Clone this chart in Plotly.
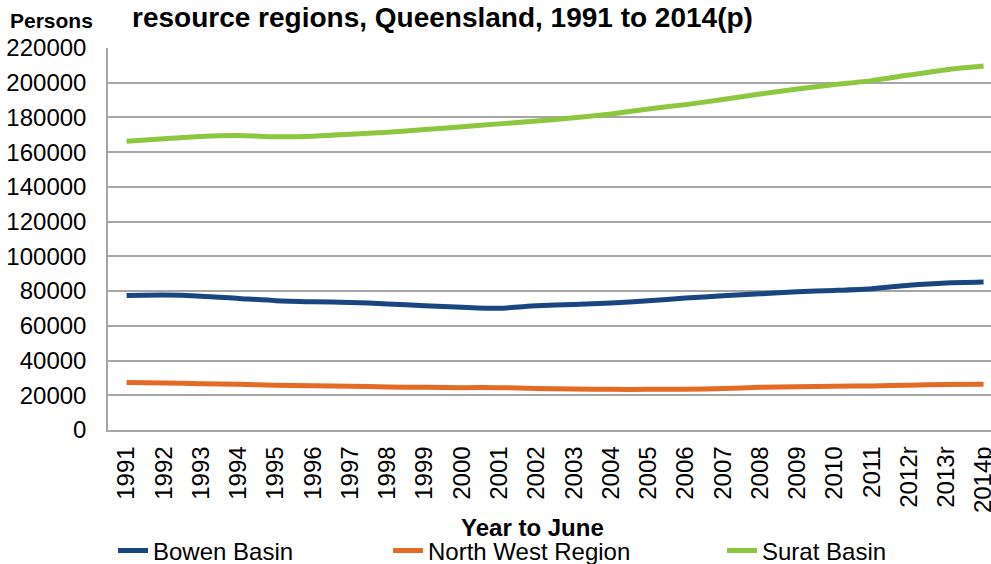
import plotly.graph_objects as go

years = ["1991", "1992", "1993", "1994", "1995", "1996", "1997", "1998", "1999", "2000",
         "2001", "2002", "2003", "2004", "2005", "2006", "2007", "2008", "2009", "2010",
         "2011", "2012r", "2013r", "2014p"]

bowen = [77500, 77700, 77100, 75800, 74500, 73900, 73500, 72600, 71600, 70700,
         70100, 71500, 72300, 73100, 74400, 76000, 77300, 78400, 79600, 80400,
         81400, 83400, 84700, 85200]

north_west = [27300, 27100, 26700, 26300, 25800, 25500, 25200, 24800, 24600, 24400,
              24400, 23900, 23600, 23400, 23400, 23500, 23900, 24600, 24900, 25200,
              25400, 25800, 26200, 26300]

surat = [166300, 167800, 169100, 169600, 168900, 169200, 170300, 171500, 173000, 174600,
         176300, 178000, 179800, 182000, 184900, 187400, 190300, 193500, 196400, 198900,
         201200, 204400, 207500, 209600]

y_ticks = list(range(0, 220001, 20000))

series = [
    ("Bowen Basin", bowen, "#194680", "legend"),
    ("North West Region", north_west, "#E46B25", "legend2"),
    ("Surat Basin", surat, "#8DC63F", "legend3"),
]

FONT = "Liberation Sans, Arial, sans-serif"
W, H = 991, 564
L, T = 108, 47.5
B = H - 430.5
R = 0

fig = go.Figure()
xs = list(range(len(years)))
for name, vals, color, lg in series:
    fig.add_trace(go.Scatter(
        x=xs, y=vals, name=name, mode="lines",
        line=dict(color=color, width=5, shape="spline", smoothing=0.6),
        legend=lg, showlegend=True,
    ))

legend_text_x = [153, 428, 762]
legend_common = dict(orientation="h", xref="container", yref="container",
                     xanchor="left", yanchor="middle", y=1 - 551 / H,
                     font=dict(family=FONT, size=24, color="#000"),
                     bgcolor="rgba(0,0,0,0)", borderwidth=0, visible=True)
fig.update_layout(
    showlegend=True,
    legend=dict(x=(legend_text_x[0] - 40) / W, **legend_common),
    legend2=dict(x=(legend_text_x[1] - 40) / W, **legend_common),
    legend3=dict(x=(legend_text_x[2] - 40) / W, **legend_common),
)

PW = W - L - R
PH = H - T - B

fig.update_layout(
    width=W, height=H,
    margin=dict(l=L, r=R, t=T, b=B, pad=0, autoexpand=False),
    paper_bgcolor="white", plot_bgcolor="white",
    font=dict(family=FONT, color="#000"),
    title=dict(text="<b>resource regions, Queensland, 1991 to 2014(p)</b>",
               x=132 / W, xanchor="left", xref="container",
               y=1 - 17 / H, yanchor="middle", yref="container", automargin=False,
               font=dict(family=FONT, size=28, color="#000")),
    xaxis=dict(
        tickmode="array", tickvals=xs, ticktext=years,
        range=[-0.5, 23.2], tickangle=-90,
        showgrid=False, zeroline=False, automargin=False,
        showline=True, linecolor="#A6A6A6", linewidth=1.5,
        ticks="", ticklabelstandoff=5, ticklabeloverflow="allow",
        tickfont=dict(family=FONT, size=24, color="#000"),
        fixedrange=True,
    ),
    yaxis=dict(
        range=[0, 220000], tickmode="array", tickvals=y_ticks,
        ticktext=[str(v) for v in y_ticks], automargin=False,
        showgrid=True, gridcolor="#A6A6A6", gridwidth=1.5,
        zeroline=False, showline=True, linecolor="#A6A6A6", linewidth=1.5,
        ticks="", ticklabelstandoff=15, ticklabeloverflow="allow",
        tickfont=dict(family=FONT, size=24, color="#000"),
        fixedrange=True,
    ),
    annotations=[
        dict(text="<b>Persons</b>", xref="paper", yref="paper",
             x=(8 - L) / PW, xanchor="left",
             y=(H - B - 20) / PH, yanchor="middle",
             showarrow=False, font=dict(family=FONT, size=21, color="#000")),
        dict(text="<b>Year to June</b>", xref="paper", yref="paper",
             x=(532 - L) / PW, xanchor="center",
             y=-(528 - (H - B)) / PH, yanchor="middle",
             showarrow=False, font=dict(family=FONT, size=24, color="#000")),
    ],
)

fig.write_html(
    "out.html",
    config={"displayModeBar": False},
    post_script="document.body.style.margin='0';document.body.style.overflow='hidden';",
)
